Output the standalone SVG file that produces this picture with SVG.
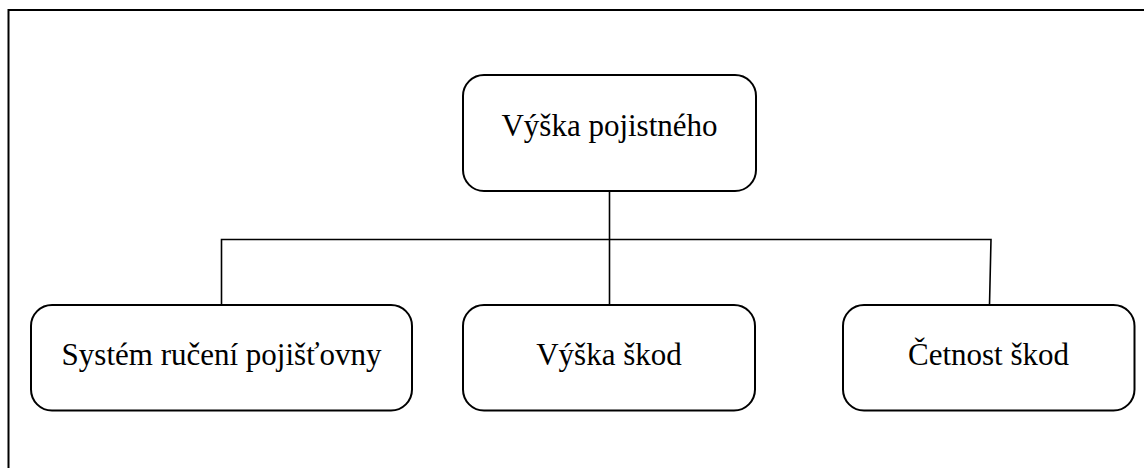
<svg xmlns="http://www.w3.org/2000/svg" width="1144" height="468" viewBox="0 0 1144 468">
<style>
.box{fill:#fff;stroke:#000;stroke-width:2}
.lbl{font-family:"Liberation Serif","Times New Roman",serif;font-size:31px;fill:#000;text-anchor:middle}
.con{fill:none;stroke:#000;stroke-width:1.6}
</style>
<rect x="8.5" y="10" width="1200" height="520" fill="#fff" stroke="#000" stroke-width="2"/>
<g id="connectors">
<path class="con" d="M609.5 191 V305"/>
<path class="con" d="M221.5 305 V239.5 H991 L989.5 305"/>
</g>
<g id="n-top">
<rect class="box" x="463" y="75" width="293" height="116" rx="21"/>
<text class="lbl" x="609.5" y="135.5">Výška pojistného</text>
</g>
<g id="n-system">
<rect class="box" x="31" y="305" width="381" height="105.5" rx="21"/>
<text class="lbl" x="221.5" y="364.5">Systém ručení pojišťovny</text>
</g>
<g id="n-vyska-skod">
<rect class="box" x="463" y="305" width="292" height="105.5" rx="21"/>
<text class="lbl" x="609" y="364.5">Výška škod</text>
</g>
<g id="n-cetnost">
<rect class="box" x="843" y="305" width="291.5" height="105.5" rx="21"/>
<text class="lbl" x="988.5" y="364.5">Četnost škod</text>
</g>
</svg>
